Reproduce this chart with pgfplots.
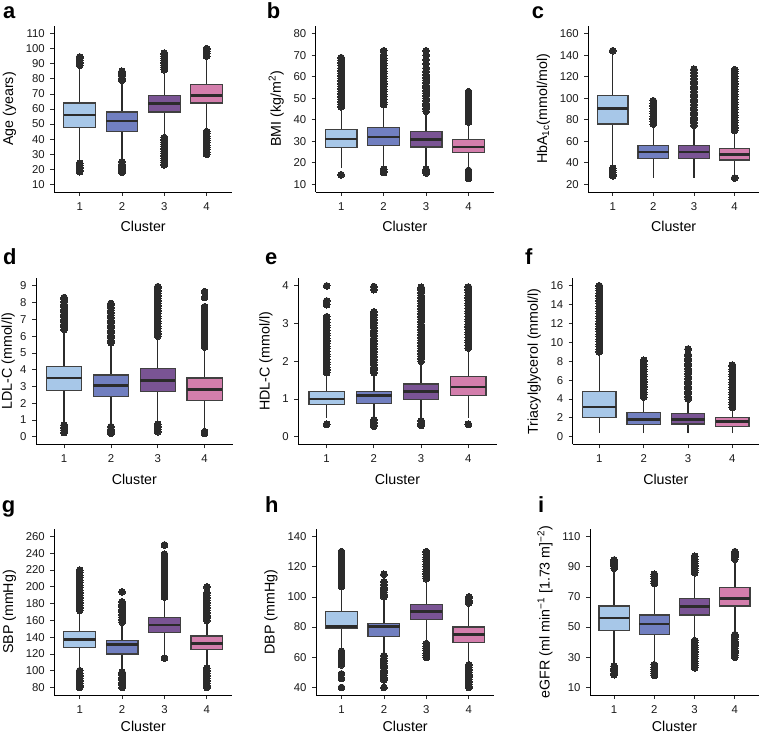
\documentclass[border=0pt]{standalone}
\usepackage{fontspec}
\setmainfont{Liberation Sans}
\usepackage{pgfplots}
\pgfplotsset{compat=1.18}
\usepgfplotslibrary{statistics}

\definecolor{cA}{HTML}{A7C7E8}
\definecolor{cB}{HTML}{717FC0}
\definecolor{cC}{HTML}{7A5494}
\definecolor{cD}{HTML}{D37EAC}
\definecolor{bl}{HTML}{404040}
\definecolor{dk}{HTML}{2B2B2B}
\definecolor{tl}{HTML}{1A1A1A}

\pgfplotsset{
  /pgf/number format/assume math mode=true,
  panel/.style={
    scale only axis, height=166bp, anchor=south west,
    xmin=0.4, xmax=4.6, xtick={1,2,3,4},
    axis x line*=bottom, axis y line*=left,
    axis line style={line width=0.9bp, black, -},
    tick align=outside, major tick length=4bp,
    tick style={line width=0.8bp, color=dk},
    xlabel={Cluster},
    label style={font=\fontsize{14.3}{16}\selectfont},
    tick label style={font=\fontsize{11.4}{13}\selectfont, text=tl},
    xticklabel style={yshift=-3bp},
    yticklabel style={xshift=-2bp},
    xlabel shift=4bp, ylabel shift=3bp,
    boxplot/draw direction=y,
    boxplot/box extend=0.75,
    boxplot/whisker extend=0,
    boxplot/every median/.style={line width=2.6bp, draw=dk},
    boxplot/every whisker/.style={line width=1.3bp, draw=dk},
    clip=false,
  },
  bottomrow/.style={xlabel shift=1bp},
}

% colour, position, lower whisker, Q1, median, Q3, upper whisker, outliers
\newcommand\bx[8]{%
  \addplot[fill=#1, draw=bl, line width=1.2bp,
    mark=*, mark size=3.4bp, mark options={draw=dk, fill=dk, line width=0pt},
    boxplot prepared={draw position=#2, lower whisker=#3, lower quartile=#4,
      median=#5, upper quartile=#6, upper whisker=#7}]
    table[row sep=\\, y index=0] {v\\ #8};}

\newcommand\letter[2]{\node[anchor=base west, inner sep=0pt, font=\bfseries\fontsize{22}{22}\selectfont] at #1 {#2};}

\begin{document}
\begin{tikzpicture}
\useasboundingbox (0,0) rectangle (760bp,734bp);

% a: age
\begin{axis}[panel, at={(54.3bp,542bp)}, width=177.7bp,
  ymin=5, ymax=115, ytick={10,20,...,110}, ylabel={Age (years)}]
\bx{cA}{1}{25}{48}{56}{64}{88}{89\\90.5\\92\\93.5\\94.5\\24\\22.5\\21\\19.5\\18.5\\}
\bx{cB}{2}{26}{45}{52}{58}{78}{79\\80.5\\82\\83.5\\85\\25\\23.5\\22\\20.5\\19\\18\\}
\bx{cC}{3}{43}{58}{63.5}{69}{85}{86\\87.5\\89\\90.5\\92\\93.5\\95\\96.5\\97\\41\\39.5\\38\\36.5\\35\\33.5\\32\\30.5\\29\\27.5\\26\\24.5\\23\\}
\bx{cD}{4}{47}{64}{69}{76}{94}{95\\96.5\\98\\99.5\\100\\45\\43.5\\42\\40.5\\39\\37.5\\36\\34.5\\33\\31.5\\30\\}
\end{axis}

% b: BMI
\begin{axis}[panel, at={(315.7bp,542bp)}, width=178.3bp,
  ymin=6.5, ymax=83.5, ytick={10,20,...,80}, ylabel={BMI (kg/m\textsuperscript{2})}]
\bx{cA}{1}{17.5}{27.1}{31}{35.4}{45.5}{46\\47.2\\48.4\\49.6\\50.8\\52\\53.2\\54.4\\55.6\\56.8\\58\\59.2\\60.4\\61.6\\62.8\\64\\65.2\\66.4\\67.6\\68.8\\14.5\\}
\bx{cB}{2}{18}{28.1}{32}{36.4}{46.5}{47\\48.2\\49.4\\50.6\\51.8\\53\\54.2\\55.4\\56.6\\57.8\\59\\60.2\\61.4\\62.6\\63.8\\65\\66.2\\67.4\\68.6\\70\\72\\17\\16\\15.5\\}
\bx{cC}{3}{18}{27.4}{30.8}{34.6}{43}{44\\45.2\\46.4\\47.6\\48.8\\50\\51.2\\52.4\\53.6\\54.8\\56\\57.2\\58.4\\59.6\\60.8\\62.5\\64\\66\\68\\70\\72\\17\\16\\15.3\\}
\bx{cD}{4}{17.5}{24.9}{27.4}{30.8}{38.5}{39\\40.2\\41.4\\42.6\\43.8\\45\\46.2\\47.4\\48.6\\50\\51.5\\53\\16.5\\15.5\\14.5\\13.5\\12.8\\}
\end{axis}

% c: HbA1c
\begin{axis}[panel, at={(588.3bp,542bp)}, width=170.7bp,
  ymin=13, ymax=167, ytick={20,40,...,160}, ylabel={HbA\textsubscript{1c}(mmol/mol)}]
\bx{cA}{1}{37}{76}{90.5}{102.7}{140}{144\\35\\33\\31\\29\\28\\}
\bx{cB}{2}{26}{44}{50}{56}{74}{76\\78.4\\80.8\\83.2\\85.6\\88\\90.4\\92.8\\95.2\\97.6\\}
\bx{cC}{3}{26}{44}{50}{56}{74}{75\\77.4\\79.8\\82.2\\84.6\\87\\89.4\\91.8\\94.2\\96.6\\99\\101.4\\103.8\\106.2\\108.6\\111\\113.4\\115.8\\118\\121\\124\\127\\}
\bx{cD}{4}{30}{42.7}{47.6}{53.7}{68}{70\\72.4\\74.8\\77.2\\79.6\\82\\84.4\\86.8\\89.2\\91.6\\94\\96.4\\98.8\\101.2\\103.6\\106\\108.4\\110.8\\113.2\\115.6\\118\\120.4\\122.8\\125.2\\126.5\\26\\}
\end{axis}

% d: LDL-C
\begin{axis}[panel, at={(36bp,289.7bp)}, width=196.7bp, ylabel shift=-1.5bp,
  ymin=-0.45, ymax=9.45, ytick={0,1,...,9}, ylabel={LDL-C (mmol/l)}]
\bx{cA}{1}{0.9}{2.75}{3.5}{4.2}{6.3}{6.4\\6.55\\6.7\\6.85\\7\\7.15\\7.3\\7.45\\7.6\\7.75\\7.9\\8.05\\8.2\\8.3\\0.7\\0.55\\0.4\\0.25\\}
\bx{cB}{2}{0.7}{2.42}{3.07}{3.68}{5.5}{5.6\\5.75\\5.9\\6.05\\6.2\\6.35\\6.5\\6.65\\6.8\\6.95\\7.1\\7.25\\7.4\\7.55\\7.7\\7.85\\7.95\\0.6\\0.45\\0.3\\0.2\\}
\bx{cC}{3}{0.9}{2.68}{3.37}{4.06}{5.95}{6\\6.15\\6.3\\6.45\\6.6\\6.75\\6.9\\7.05\\7.2\\7.35\\7.5\\7.65\\7.8\\7.95\\8.1\\8.25\\8.4\\8.55\\8.7\\8.85\\8.95\\0.75\\0.6\\0.45\\0.3\\}
\bx{cD}{4}{0.5}{2.18}{2.82}{3.5}{5.25}{5.35\\5.5\\5.65\\5.8\\5.95\\6.1\\6.25\\6.4\\6.55\\6.7\\6.85\\7\\7.15\\7.3\\7.45\\7.6\\7.75\\8.3\\8.65\\0.3\\0.2\\}
\end{axis}

% e: HDL-C
\begin{axis}[panel, at={(298.3bp,289.7bp)}, width=198.4bp,
  ymin=-0.2, ymax=4.2, ytick={0,1,...,4}, ylabel={HDL-C (mmol/l)}]
\bx{cA}{1}{0.5}{0.85}{1.0}{1.2}{1.65}{1.7\\1.77\\1.84\\1.91\\1.98\\2.05\\2.12\\2.19\\2.26\\2.33\\2.4\\2.47\\2.54\\2.61\\2.68\\2.75\\2.82\\2.89\\2.96\\3.03\\3.1\\3.18\\3.5\\3.6\\4\\0.33\\}
\bx{cB}{2}{0.5}{0.89}{1.1}{1.2}{1.65}{1.7\\1.77\\1.84\\1.91\\1.98\\2.05\\2.12\\2.19\\2.26\\2.33\\2.4\\2.47\\2.54\\2.61\\2.68\\2.75\\2.82\\2.89\\2.96\\3.03\\3.1\\3.17\\3.24\\3.31\\3.9\\3.98\\0.45\\0.38\\0.31\\0.28\\}
\bx{cC}{3}{0.45}{0.98}{1.2}{1.4}{1.95}{2\\2.07\\2.14\\2.21\\2.28\\2.35\\2.42\\2.49\\2.56\\2.63\\2.7\\2.77\\2.84\\2.91\\2.98\\3.05\\3.12\\3.19\\3.26\\3.33\\3.4\\3.47\\3.54\\3.61\\3.68\\3.75\\3.82\\3.89\\3.96\\0.42\\0.35\\0.3\\}
\bx{cD}{4}{0.5}{1.09}{1.32}{1.6}{2.3}{2.35\\2.42\\2.49\\2.56\\2.63\\2.7\\2.77\\2.84\\2.91\\2.98\\3.05\\3.12\\3.19\\3.26\\3.33\\3.4\\3.47\\3.54\\3.61\\3.68\\3.75\\3.82\\3.89\\3.97\\0.33\\}
\end{axis}

% f: triacylglycerol
\begin{axis}[panel, at={(572.7bp,289.7bp)}, width=186.3bp,
  ymin=-0.8, ymax=16.8, ytick={0,2,...,16}, ylabel={Triacylglycerol (mmol/l)}]
\bx{cA}{1}{0.45}{2.0}{3.15}{4.8}{8.9}{9\\9.27\\9.54\\9.81\\10.08\\10.35\\10.62\\10.89\\11.16\\11.43\\11.7\\11.97\\12.24\\12.51\\12.78\\13.05\\13.32\\13.59\\13.86\\14.13\\14.4\\14.67\\14.94\\15.21\\15.48\\15.75\\16\\}
\bx{cB}{2}{0.35}{1.3}{1.85}{2.53}{4.1}{4.2\\4.47\\4.74\\5.01\\5.28\\5.55\\5.82\\6.09\\6.36\\6.63\\6.9\\7.17\\7.44\\7.71\\7.98\\8.1\\}
\bx{cC}{3}{0.35}{1.35}{1.85}{2.45}{3.9}{4\\4.27\\4.54\\4.81\\5.08\\5.35\\5.62\\5.89\\6.16\\6.43\\6.7\\6.97\\7.24\\7.51\\7.78\\8.05\\8.32\\8.6\\8.75\\9.3\\}
\bx{cD}{4}{0.35}{1.08}{1.62}{2.0}{3.0}{3.1\\3.37\\3.64\\3.91\\4.18\\4.45\\4.72\\4.99\\5.26\\5.53\\5.8\\6.07\\6.34\\6.61\\6.88\\7.15\\7.42\\7.6\\}
\end{axis}

% g: SBP
\begin{axis}[panel, bottomrow, at={(54.3bp,39bp)}, width=178bp,
  ymin=71, ymax=269, ytick={80,100,...,260}, ylabel={SBP (mmHg)}]
\bx{cA}{1}{102}{128}{137}{146.5}{170}{172\\175\\178\\181\\184\\187\\190\\193\\196\\199\\202\\205\\208\\211\\214\\217\\220\\100\\97\\94\\91\\88\\85\\82\\80\\}
\bx{cB}{2}{101}{120}{131}{135.7}{156}{158\\161\\164\\167\\170\\173\\176\\179\\182\\194\\98\\95\\92\\89\\86\\83\\80\\}
\bx{cC}{3}{120}{145.3}{154.5}{163}{186}{188\\191\\194\\197\\200\\203\\206\\209\\212\\215\\218\\221\\224\\227\\230\\233\\236\\239\\250\\115\\}
\bx{cD}{4}{105}{125.4}{132.4}{141.3}{158}{160\\163\\166\\169\\172\\175\\178\\181\\184\\187\\190\\193\\200\\103\\100\\97\\94\\91\\88\\85\\82\\80\\}
\end{axis}

% h: DBP
\begin{axis}[panel, bottomrow, at={(316bp,39bp)}, width=178.3bp,
  ymin=35, ymax=145, ytick={40,60,...,140}, ylabel={DBP (mmHg)}]
\bx{cA}{1}{66}{79.4}{80.2}{90.4}{106}{107\\108.6\\110.2\\111.8\\113.4\\115\\116.6\\118.2\\119.8\\121.4\\123\\124.6\\126.2\\127.8\\129.4\\130\\64\\62.4\\60.8\\59.2\\57.6\\56\\55\\49\\46\\40\\}
\bx{cB}{2}{63.5}{74}{80.5}{82.3}{99}{100\\101.6\\103.2\\104.8\\106.4\\108\\110\\115\\61\\59.4\\57.8\\56.2\\54.6\\53\\51.4\\49.8\\48.2\\46.6\\45\\40\\}
\bx{cC}{3}{71}{85}{90.3}{95}{111}{112\\113.6\\115.2\\116.8\\118.4\\120\\121.6\\123.2\\124.8\\126.4\\128\\129.6\\130\\69\\67.4\\65.8\\64.2\\62.6\\61\\60\\}
\bx{cD}{4}{57}{70}{75}{80}{95}{96\\97.6\\99.2\\100\\55\\53.4\\51.8\\50.2\\48.6\\47\\45.4\\43.8\\42.2\\40.6\\40\\}
\end{axis}

% i: eGFR
\begin{axis}[panel, bottomrow, at={(590bp,39bp)}, width=169bp,
  ymin=5, ymax=115, ytick={10,30,...,110},
  ylabel={eGFR (ml min\textsuperscript{−1} [1.73 m]\textsuperscript{−2})}]
\bx{cA}{1}{25}{48}{56}{64}{88}{89\\90.5\\92\\93.5\\94.5\\24\\22.5\\21\\19.5\\18.5\\}
\bx{cB}{2}{26}{45}{52}{58}{78}{79\\80.5\\82\\83.5\\85\\25\\23.5\\22\\20.5\\19\\18\\}
\bx{cC}{3}{43}{58}{63.5}{69}{85}{86\\87.5\\89\\90.5\\92\\93.5\\95\\96.5\\97\\41\\39.5\\38\\36.5\\35\\33.5\\32\\30.5\\29\\27.5\\26\\24.5\\23\\}
\bx{cD}{4}{47}{64}{69}{76}{94}{95\\96.5\\98\\99.5\\100\\45\\43.5\\42\\40.5\\39\\37.5\\36\\34.5\\33\\31.5\\30\\}
\end{axis}

\letter{(3bp,715.7bp)}{a}
\letter{(266.7bp,715.7bp)}{b}
\letter{(531.7bp,715.7bp)}{c}
\letter{(3bp,469bp)}{d}
\letter{(265bp,469bp)}{e}
\letter{(525bp,469bp)}{f}
\letter{(1.7bp,221bp)}{g}
\letter{(265bp,221bp)}{h}
\letter{(538bp,221bp)}{i}
\end{tikzpicture}
\end{document}
